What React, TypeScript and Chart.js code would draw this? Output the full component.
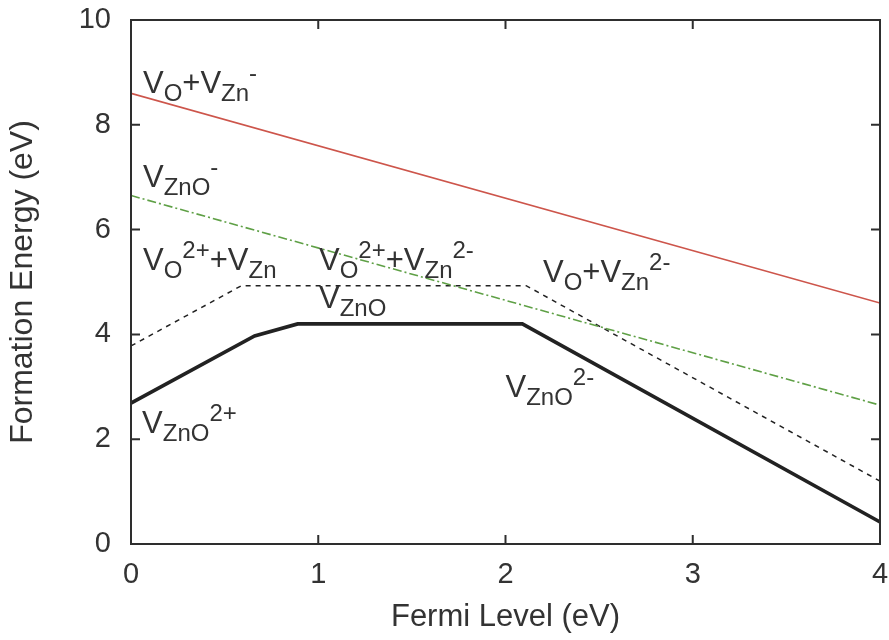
import { useEffect, useRef } from "react";
import { Chart, registerables } from "chart.js";

Chart.register(...registerables);

// ---- data ----
const xTicks = [0, 1, 2, 3, 4];
const yTicks = [0, 2, 4, 6, 8, 10];

const redX = [0, 4];
const redY = [8.6, 4.6];

const greenX = [0, 4];
const greenY = [6.65, 2.65];

const solidX = [0, 0.66, 0.89, 2.09, 4];
const solidY = [2.69, 3.97, 4.2, 4.2, 0.42];

const dashX = [0, 0.59, 2.11, 4];
const dashY = [3.78, 4.93, 4.93, 1.2];

const xTitle = "Fermi Level (eV)";
const yTitle = "Formation Energy (eV)";

type Seg = { t: string; k: "n" | "b" | "p" };
const labelTexts: Seg[][] = [
  [{ t: "V", k: "n" }, { t: "O", k: "b" }, { t: "+", k: "n" }, { t: "V", k: "n" }, { t: "Zn", k: "b" }, { t: "-", k: "p" }],
  [{ t: "V", k: "n" }, { t: "ZnO", k: "b" }, { t: "-", k: "p" }],
  [{ t: "V", k: "n" }, { t: "O", k: "b" }, { t: "2+", k: "p" }, { t: "+", k: "n" }, { t: "V", k: "n" }, { t: "Zn", k: "b" }],
  [{ t: "V", k: "n" }, { t: "O", k: "b" }, { t: "2+", k: "p" }, { t: "+", k: "n" }, { t: "V", k: "n" }, { t: "Zn", k: "b" }, { t: "2-", k: "p" }],
  [{ t: "V", k: "n" }, { t: "ZnO", k: "b" }],
  [{ t: "V", k: "n" }, { t: "ZnO", k: "b" }, { t: "2+", k: "p" }],
  [{ t: "V", k: "n" }, { t: "O", k: "b" }, { t: "+", k: "n" }, { t: "V", k: "n" }, { t: "Zn", k: "b" }, { t: "2-", k: "p" }],
  [{ t: "V", k: "n" }, { t: "ZnO", k: "b" }, { t: "2-", k: "p" }],
];
// label anchors in data units (baseline-left of the first glyph)
const labelX = [0.064, 0.064, 0.064, 1.004, 1.004, 0.059, 2.2, 2.0];
const labelY = [8.61, 6.81, 5.23, 5.23, 4.5, 2.12, 5.0, 2.81];

const FAMILY = "'Liberation Sans', Arial, Helvetica, sans-serif";
const TEXT = "#333333";
const MAIN = 31;
const SMALL = 24;
const SUB_DY = 8;
const SUP_DY = -12;

const pts = (xs: number[], ys: number[]) => xs.map((x, i) => ({ x, y: ys[i] }));

const framePlugin = {
  id: "frameAndLabels",
  afterDatasetsDraw(chart: any) {
    const { ctx, chartArea: a, scales } = chart;
    const xs = scales.x;
    const ys = scales.y;
    ctx.save();
    ctx.strokeStyle = "#2e2e2e";
    ctx.lineWidth = 2;
    ctx.setLineDash([]);
    ctx.strokeRect(a.left, a.top, a.right - a.left, a.bottom - a.top);
    const TL = 9;
    ctx.beginPath();
    for (const v of xTicks) {
      const px = xs.getPixelForValue(v);
      ctx.moveTo(px, a.bottom);
      ctx.lineTo(px, a.bottom - TL);
      ctx.moveTo(px, a.top);
      ctx.lineTo(px, a.top + TL);
    }
    for (const v of yTicks) {
      const py = ys.getPixelForValue(v);
      ctx.moveTo(a.left, py);
      ctx.lineTo(a.left + TL, py);
      ctx.moveTo(a.right, py);
      ctx.lineTo(a.right - TL, py);
    }
    ctx.stroke();

    ctx.fillStyle = TEXT;
    ctx.textAlign = "left";
    ctx.textBaseline = "alphabetic";
    labelTexts.forEach((segs, i) => {
      let cx = xs.getPixelForValue(labelX[i]);
      const by = ys.getPixelForValue(labelY[i]);
      for (const s of segs) {
        const size = s.k === "n" ? MAIN : SMALL;
        ctx.font = `${size}px ${FAMILY}`;
        const dy = s.k === "b" ? SUB_DY : s.k === "p" ? SUP_DY : 0;
        ctx.fillText(s.t, cx, by + dy);
        cx += ctx.measureText(s.t).width;
      }
    });
    ctx.restore();
  },
};

export default function App() {
  const ref = useRef<HTMLCanvasElement>(null);
  useEffect(() => {
    if (!ref.current) return;
    const chart = new Chart(ref.current, {
      type: "line",
      data: {
        datasets: [
          { data: pts(redX, redY), borderColor: "rgb(205,85,75)", borderWidth: 1.6, pointRadius: 0, fill: false, tension: 0 },
          { data: pts(greenX, greenY), borderColor: "rgb(95,160,70)", borderWidth: 1.6, borderDash: [9, 3, 2, 3], pointRadius: 0, fill: false, tension: 0 },
          { data: pts(dashX, dashY), borderColor: "#222", borderWidth: 1.5, borderDash: [5, 5], pointRadius: 0, fill: false, tension: 0 },
          { data: pts(solidX, solidY), borderColor: "#222", borderWidth: 3.6, pointRadius: 0, fill: false, tension: 0, borderJoinStyle: "miter" },
        ] as any,
      },
      options: {
        animation: false,
        responsive: false,
        devicePixelRatio: 1,
        parsing: false as any,
        layout: { padding: { top: 20, right: 9, left: 0, bottom: 0 } },
        plugins: { legend: { display: false }, tooltip: { enabled: false } },
        scales: {
          x: {
            type: "linear",
            min: 0,
            max: 4,
            afterBuildTicks: (s: any) => { s.ticks = xTicks.map((v) => ({ value: v })); },
            afterFit: (s: any) => { s.height = 96; s.paddingLeft = 0; s.paddingRight = 0; },
            grid: { display: false, drawTicks: false },
            border: { display: false },
            ticks: { color: TEXT, font: { family: FAMILY, size: 29 }, padding: 14, maxRotation: 0, autoSkip: false },
            title: { display: true, text: xTitle, color: TEXT, font: { family: FAMILY, size: 31 }, padding: { top: 0, bottom: 4 } },
          },
          y: {
            type: "linear",
            min: 0,
            max: 10,
            afterBuildTicks: (s: any) => { s.ticks = yTicks.map((v) => ({ value: v })); },
            afterFit: (s: any) => { s.width = 131; s.paddingTop = 0; s.paddingBottom = 0; },
            grid: { display: false, drawTicks: false },
            border: { display: false },
            ticks: { color: TEXT, font: { family: FAMILY, size: 29 }, padding: 20, autoSkip: false },
            title: { display: true, text: yTitle, color: TEXT, font: { family: FAMILY, size: 32 }, padding: { top: 4, bottom: 0 } },
          },
        },
      },
      plugins: [framePlugin],
    });
    return () => chart.destroy();
  }, []);
  return (
    <div style={{ position: "absolute", left: 0, top: 0, width: 889, height: 640, background: "#fff" }}>
      <canvas ref={ref} width={889} height={640} style={{ width: 889, height: 640 }} />
    </div>
  );
}
